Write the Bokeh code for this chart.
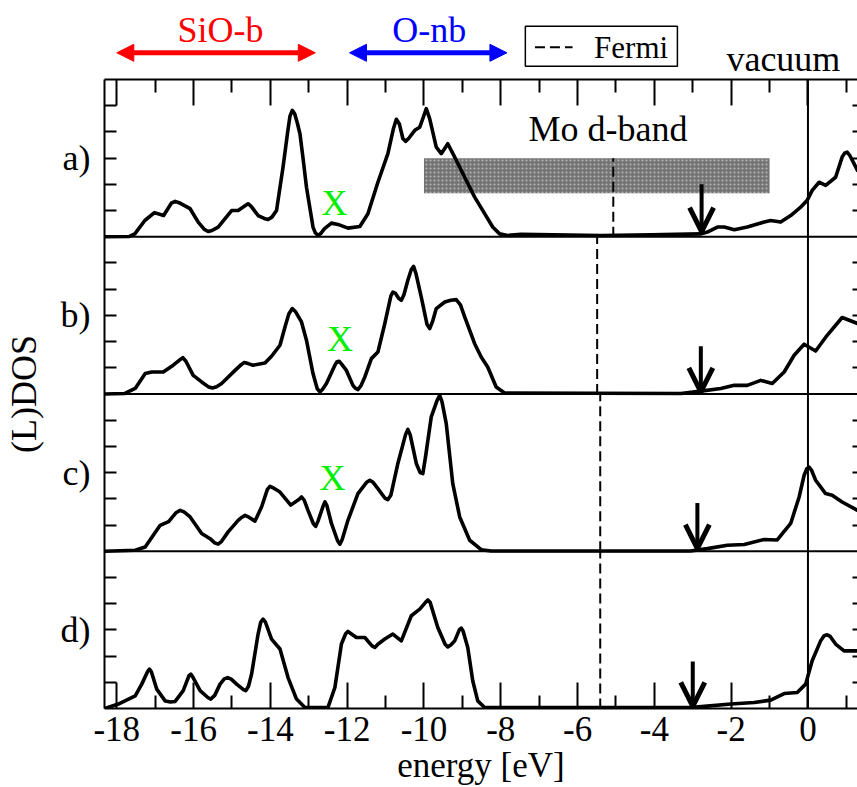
from bokeh.plotting import figure
from bokeh.models import Range1d, LinearAxis, FixedTicker, Span, Arrow, NormalHead, OpenHead
from bokeh.layouts import column
from bokeh.core.properties import value
from bokeh.embed import file_html
from bokeh.resources import INLINE

FONT = "Liberation Serif"

# ---------------- data: (energy [eV], DOS in panel units 0..6) ----------------
curve_a = [(-18.32, 0.00), (-17.67, 0.01), (-17.53, 0.11), (-17.27, 0.62), (-17.02, 0.92),
           (-16.78, 0.81), (-16.58, 1.28), (-16.48, 1.35), (-16.38, 1.30), (-16.09, 1.07),
           (-15.88, 0.56), (-15.72, 0.28), (-15.62, 0.20), (-15.52, 0.24), (-15.36, 0.37),
           (-15.01, 1.00), (-14.84, 1.00), (-14.66, 1.18), (-14.58, 1.26), (-14.50, 1.16),
           (-14.32, 0.81), (-14.16, 0.70), (-14.06, 0.66), (-13.96, 0.75), (-13.84, 1.00),
           (-13.67, 2.66), (-13.55, 4.00), (-13.49, 4.60), (-13.43, 4.82), (-13.37, 4.70),
           (-13.30, 4.35), (-13.23, 3.93), (-13.15, 3.00), (-13.06, 1.89), (-12.89, 0.37),
           (-12.83, 0.15), (-12.76, 0.05), (-12.69, 0.12), (-12.59, 0.31), (-12.41, 0.52),
           (-12.24, 0.47), (-11.98, 0.33), (-11.67, 0.39), (-11.46, 0.88), (-11.20, 2.08),
           (-10.94, 3.17), (-10.80, 4.10), (-10.72, 4.48), (-10.64, 4.30), (-10.55, 3.75),
           (-10.48, 3.64), (-10.40, 3.75), (-10.24, 4.06), (-10.11, 4.18), (-10.02, 4.55),
           (-9.94, 4.89), (-9.85, 4.50), (-9.68, 3.42), (-9.55, 3.17), (-9.38, 3.55),
           (-9.20, 3.04), (-8.94, 2.27), (-8.68, 1.51), (-8.42, 0.88), (-8.21, 0.37),
           (-8.03, 0.11), (-7.82, 0.05), (-7.47, 0.09), (-5.39, 0.05), (-4.09, 0.07),
           (-2.78, 0.11), (-2.62, 0.18), (-2.36, 0.37), (-2.18, 0.37), (-1.92, 0.27),
           (-1.58, 0.37), (-1.14, 0.56), (-0.97, 0.62), (-0.71, 0.56), (-0.45, 0.81),
           (-0.19, 1.13), (-0.02, 1.39), (0.11, 1.77), (0.29, 2.08), (0.46, 1.96),
           (0.72, 2.27), (0.89, 3.04), (0.96, 3.20), (1.02, 3.23), (1.09, 3.10),
           (1.20, 2.79), (1.29, 2.53)]

curve_b = [(-18.32, 0.00), (-17.79, 0.02), (-17.52, 0.21), (-17.26, 0.78), (-17.09, 0.84),
           (-16.79, 0.84), (-16.53, 1.10), (-16.36, 1.30), (-16.28, 1.39), (-16.20, 1.25),
           (-16.01, 0.71), (-15.79, 0.46), (-15.62, 0.28), (-15.51, 0.23), (-15.40, 0.28),
           (-15.27, 0.40), (-14.92, 0.90), (-14.76, 1.12), (-14.68, 1.20), (-14.58, 1.16),
           (-14.45, 1.10), (-14.14, 1.18), (-13.97, 1.44), (-13.75, 1.86), (-13.62, 2.56),
           (-13.52, 3.05), (-13.43, 3.26), (-13.35, 3.15), (-13.19, 2.75), (-13.06, 2.05),
           (-12.89, 0.78), (-12.78, 0.20), (-12.71, 0.08), (-12.64, 0.18), (-12.54, 0.40),
           (-12.32, 1.10), (-12.27, 1.22), (-12.21, 1.25), (-12.15, 1.15), (-12.02, 0.90),
           (-11.85, 0.33), (-11.79, 0.22), (-11.72, 0.17), (-11.64, 0.32), (-11.54, 0.65),
           (-11.37, 1.35), (-11.20, 1.60), (-11.02, 2.69), (-10.86, 3.75), (-10.81, 3.89),
           (-10.75, 3.85), (-10.66, 3.65), (-10.59, 3.58), (-10.52, 3.80), (-10.42, 4.34),
           (-10.33, 4.75), (-10.27, 4.87), (-10.21, 4.60), (-10.07, 3.70), (-9.92, 2.65),
           (-9.85, 2.50), (-9.78, 2.75), (-9.68, 3.26), (-9.46, 3.51), (-9.30, 3.58),
           (-9.16, 3.60), (-9.05, 3.40), (-8.94, 2.94), (-8.68, 1.92), (-8.51, 1.41),
           (-8.34, 1.03), (-8.12, 0.27), (-7.90, 0.04), (-3.31, 0.02), (-2.79, 0.11),
           (-2.27, 0.21), (-1.92, 0.33), (-1.58, 0.33), (-1.23, 0.52), (-0.93, 0.40),
           (-0.62, 0.84), (-0.36, 1.48), (-0.10, 1.90), (0.20, 1.64), (0.50, 2.24),
           (0.89, 2.92), (1.29, 2.69)]

curve_c = [(-18.32, 0.00), (-17.52, 0.04), (-17.26, 0.16), (-17.05, 0.61), (-16.87, 0.99),
           (-16.65, 1.13), (-16.45, 1.48), (-16.35, 1.56), (-16.25, 1.50), (-16.09, 1.31),
           (-15.79, 0.68), (-15.57, 0.48), (-15.45, 0.32), (-15.36, 0.27), (-15.27, 0.38),
           (-15.10, 0.74), (-14.84, 1.18), (-14.74, 1.30), (-14.66, 1.37), (-14.56, 1.30),
           (-14.40, 1.15), (-14.23, 1.69), (-14.08, 2.35), (-14.01, 2.48), (-13.93, 2.42),
           (-13.75, 2.26), (-13.47, 1.76), (-13.25, 1.98), (-13.19, 2.07), (-13.12, 1.95),
           (-13.02, 1.56), (-12.88, 1.05), (-12.82, 0.95), (-12.76, 1.15), (-12.62, 1.75),
           (-12.58, 1.88), (-12.53, 1.75), (-12.41, 1.06), (-12.25, 0.40), (-12.19, 0.27),
           (-12.13, 0.45), (-11.98, 1.18), (-11.72, 2.20), (-11.50, 2.62), (-11.41, 2.71),
           (-11.32, 2.62), (-11.20, 2.39), (-11.02, 2.03), (-10.94, 1.97), (-10.86, 2.15),
           (-10.68, 3.35), (-10.48, 4.45), (-10.42, 4.65), (-10.36, 4.45), (-10.20, 3.35),
           (-10.10, 3.00), (-10.03, 2.96), (-9.96, 3.60), (-9.81, 5.13), (-9.66, 5.75),
           (-9.59, 5.95), (-9.53, 5.70), (-9.42, 4.87), (-9.25, 2.58), (-9.07, 1.31),
           (-8.81, 0.42), (-8.51, 0.06), (-8.25, 0.01), (-3.06, 0.01), (-2.62, 0.10),
           (-2.10, 0.23), (-1.66, 0.26), (-1.14, 0.45), (-0.80, 0.43), (-0.45, 1.06),
           (-0.23, 2.07), (-0.10, 2.90), (-0.03, 3.15), (0.03, 3.21), (0.09, 3.10),
           (0.20, 2.71), (0.46, 2.20), (0.63, 2.14), (0.89, 1.88), (1.29, 1.56)]

curve_d = [(-18.31, 0.00), (-17.96, 0.17), (-17.52, 0.48), (-17.35, 0.93), (-17.20, 1.40),
           (-17.15, 1.50), (-17.10, 1.40), (-16.96, 0.74), (-16.74, 0.29), (-16.60, 0.25),
           (-16.48, 0.27), (-16.27, 0.68), (-16.12, 1.25), (-16.07, 1.31), (-16.02, 1.20),
           (-15.83, 0.68), (-15.63, 0.42), (-15.55, 0.36), (-15.45, 0.50), (-15.31, 0.93),
           (-15.20, 1.13), (-15.11, 1.18), (-15.02, 1.12), (-14.88, 0.93), (-14.70, 0.72),
           (-14.64, 0.68), (-14.57, 0.85), (-14.49, 1.31), (-14.32, 2.84), (-14.25, 3.30),
           (-14.19, 3.41), (-14.13, 3.30), (-13.97, 2.65), (-13.75, 2.27), (-13.54, 1.18),
           (-13.32, 0.36), (-13.10, 0.04), (-12.50, 0.04), (-12.32, 0.80), (-12.15, 2.46),
           (-12.04, 2.85), (-11.98, 2.94), (-11.76, 2.71), (-11.54, 2.71), (-11.36, 2.40),
           (-11.28, 2.33), (-11.20, 2.45), (-11.02, 2.65), (-10.81, 2.84), (-10.59, 2.58),
           (-10.33, 3.54), (-10.11, 3.79), (-9.96, 4.05), (-9.90, 4.14), (-9.84, 4.05),
           (-9.64, 3.09), (-9.45, 2.45), (-9.38, 2.35), (-9.30, 2.42), (-9.20, 2.58),
           (-9.08, 3.00), (-9.03, 3.07), (-8.98, 2.95), (-8.86, 2.33), (-8.73, 1.06),
           (-8.60, 0.29), (-8.42, 0.04), (-3.05, 0.04), (-2.70, 0.08), (-2.01, 0.17),
           (-1.40, 0.23), (-0.97, 0.32), (-0.62, 0.57), (-0.28, 0.61), (-0.06, 0.93),
           (0.11, 1.82), (0.33, 2.58), (0.42, 2.78), (0.50, 2.81), (0.58, 2.75),
           (0.72, 2.46), (0.94, 2.20), (1.29, 2.20)]

panel_labels = ["a)", "b)", "c)", "d)"]
panel_offsets = [18, 12, 6, 0]
fermi_energy = [-5.07, -5.49, -5.41, -5.41]
fermi_top = [3, 6, 6, 6]
arrow_energy = [-2.77, -2.79, -2.88, -3.00]
arrow_top = [2.00, 1.82, 1.84, 1.79]
arrow_tip = [0.20, 0.08, 0.10, 0.08]
x_marker_energy = [-12.33, -12.19, -12.38]
x_marker_center = [1.29, 2.10, 2.81]
mo_band = (-10.0, -1.0, 1.66, 3.0)  # left, right, bottom, top in panel a units
x_ticks = [-18, -16, -14, -12, -10, -8, -6, -4, -2, 0]
x_tick_labels = ["-18", "-16", "-14", "-12", "-10", "-8", "-6", "-4", "-2", "0"]
x_minor = [-17, -15, -13, -11, -9, -7, -5, -3, -1, 1]

# ---------------- shared x range ----------------
xr = Range1d(-18.32, 1.29)

# ---------------- header strip ----------------
TOP_H = 78
top = figure(width=857, height=TOP_H, x_range=xr, y_range=Range1d(TOP_H, 0),
             x_axis_type=None, y_axis_type=None, toolbar_location=None,
             output_backend="svg", min_border_left=103, min_border_right=0,
             min_border_top=0, min_border_bottom=0, outline_line_color=None)
top.xgrid.visible = False
top.ygrid.visible = False

def label(fig, x, y, txt, color="black", size="36px", align="center"):
    fig.text(x=x, y=y, text=txt, text_color=color, text_font=value(FONT),
             text_font_size=size, text_align=align, text_baseline="middle")

label(top, [-15.30], [29.5], ["SiO-b"], "#ff0000")
label(top, [-9.86], [29.5], ["O-nb"], "#0000ff")
label(top, [-0.64], [58.9], ["vacuum"])
top.add_layout(Arrow(x_start=-18.0, y_start=52.3, x_end=-12.83, y_end=52.3,
                     line_color="#ff0000", line_width=5,
                     start=NormalHead(size=17, fill_color="#ff0000", line_color="#ff0000"),
                     end=NormalHead(size=17, fill_color="#ff0000", line_color="#ff0000")))
top.add_layout(Arrow(x_start=-11.94, y_start=52.3, x_end=-7.84, y_end=52.3,
                     line_color="#0000ff", line_width=5,
                     start=NormalHead(size=17, fill_color="#0000ff", line_color="#0000ff"),
                     end=NormalHead(size=17, fill_color="#0000ff", line_color="#0000ff")))
# legend box for Fermi
top.quad(left=[-7.36], right=[-3.40], top=[25.7], bottom=[65.7],
         fill_color="white", line_color="black", line_width=1.5)
top.segment(x0=[-7.11], y0=[46.7], x1=[-6.13], y1=[46.7], line_color="black",
            line_width=2, line_dash="10 5")
label(top, [-5.57], [46.8], ["Fermi"], size="31px", align="left")

# ---------------- main panels ----------------
p = figure(width=857, height=787 - TOP_H, x_range=xr, y_range=Range1d(0, 24),
           x_axis_type=None, y_axis_type=None, toolbar_location=None,
           output_backend="svg", min_border_left=103, min_border_right=0,
           min_border_top=1, min_border_bottom=79, outline_line_color=None)
p.xgrid.visible = False
p.ygrid.visible = False

# Mo d-band box (panel a)
off_a = panel_offsets[0]
p.quad(left=[mo_band[0]], right=[mo_band[1]], bottom=[mo_band[2] + off_a],
       top=[mo_band[3] + off_a], fill_color="#747474", line_color=None,
       hatch_pattern="dot", hatch_color="#b8b8b8", hatch_scale=4, hatch_weight=1)

# Fermi levels
p.segment(x0=fermi_energy, y0=panel_offsets,
          x1=fermi_energy, y1=[o + t for o, t in zip(panel_offsets, fermi_top)],
          line_color="black", line_width=2, line_dash="10 5")

# panel separators and vacuum line
for o in panel_offsets[:3]:
    p.add_layout(Span(location=o, dimension="width", line_color="black", line_width=2))
p.add_layout(Span(location=0, dimension="height", line_color="black", line_width=2))

# curves
for curve, o in zip([curve_a, curve_b, curve_c, curve_d], panel_offsets):
    energy = [e for e, _ in curve]
    dos = [d + o for _, d in curve]
    p.line(energy, dos, line_color="black", line_width=3.6,
           line_join="round", line_cap="round")

# band-edge arrows
for e, t0, t1, o in zip(arrow_energy, arrow_top, arrow_tip, panel_offsets):
    p.add_layout(Arrow(x_start=e, y_start=t0 + o, x_end=e, y_end=t1 + o,
                       line_color="black", line_width=4,
                       end=OpenHead(size=24, line_width=5, line_color="black")))

# green X markers
label(p, x_marker_energy, [c + o for c, o in zip(x_marker_center, panel_offsets[:3])],
      ["X", "X", "X"], color="#00ee00")

# Mo d-band label
label(p, [-5.21], [4.11 + off_a], ["Mo d-band"])

# ---------------- axes ----------------
def xaxis(show_labels):
    ax = LinearAxis(ticker=FixedTicker(ticks=x_ticks, minor_ticks=x_minor))
    ax.major_tick_in = 26
    ax.major_tick_out = 0
    ax.minor_tick_in = 13
    ax.minor_tick_out = 0
    ax.axis_line_width = 2
    ax.axis_line_color = "black"
    ax.major_tick_line_width = 2
    ax.minor_tick_line_width = 2
    ax.major_tick_line_color = "black"
    ax.minor_tick_line_color = "black"
    if show_labels:
        ax.major_label_overrides = {t: l for t, l in zip(x_ticks, x_tick_labels)}
        ax.major_label_text_font = FONT
        ax.major_label_text_font_size = "35px"
        ax.major_label_text_color = "black"
        ax.major_label_standoff = 8
        ax.axis_label = "energy [eV]"
        ax.axis_label_text_font = FONT
        ax.axis_label_text_font_size = "35px"
        ax.axis_label_text_font_style = "normal"
        ax.axis_label_text_color = "black"
        ax.axis_label_standoff = 2
    else:
        ax.major_label_text_font_size = "1px"
        ax.major_label_text_color = None
        ax.major_label_standoff = 0
    return ax

p.add_layout(xaxis(True), "below")
p.add_layout(xaxis(False), "above")

y_ticks = [v + o for o in panel_offsets for v in (1, 2, 3, 4, 5)]
y_over = {t: "" for t in y_ticks}
for lab, o in zip(panel_labels, panel_offsets):
    y_over[o + 3] = lab

def yaxis(show_labels, tick_len):
    ax = LinearAxis(ticker=FixedTicker(ticks=sorted(y_ticks)))
    ax.major_tick_in = tick_len
    ax.major_tick_out = 0
    ax.minor_tick_in = 0
    ax.minor_tick_out = 0
    ax.major_tick_line_width = 2
    ax.major_tick_line_color = "black"
    if show_labels:
        ax.axis_line_width = 2
        ax.axis_line_color = "black"
        ax.major_label_overrides = y_over
        ax.major_label_text_font = FONT
        ax.major_label_text_font_size = "36px"
        ax.major_label_text_color = "black"
        ax.major_label_standoff = 14
        ax.axis_label = "(L)DOS"
        ax.axis_label_text_font = FONT
        ax.axis_label_text_font_size = "36px"
        ax.axis_label_text_font_style = "normal"
        ax.axis_label_text_color = "black"
        ax.axis_label_standoff = 14
    else:
        ax.axis_line_color = None
        ax.major_label_text_font_size = "1px"
        ax.major_label_text_color = None
        ax.major_label_standoff = 0
    return ax

p.add_layout(yaxis(True, 12), "left")
p.add_layout(yaxis(False, 5), "right")

layout = column(top, p, spacing=0)
open("out.html", "w").write(file_html(layout, INLINE))
